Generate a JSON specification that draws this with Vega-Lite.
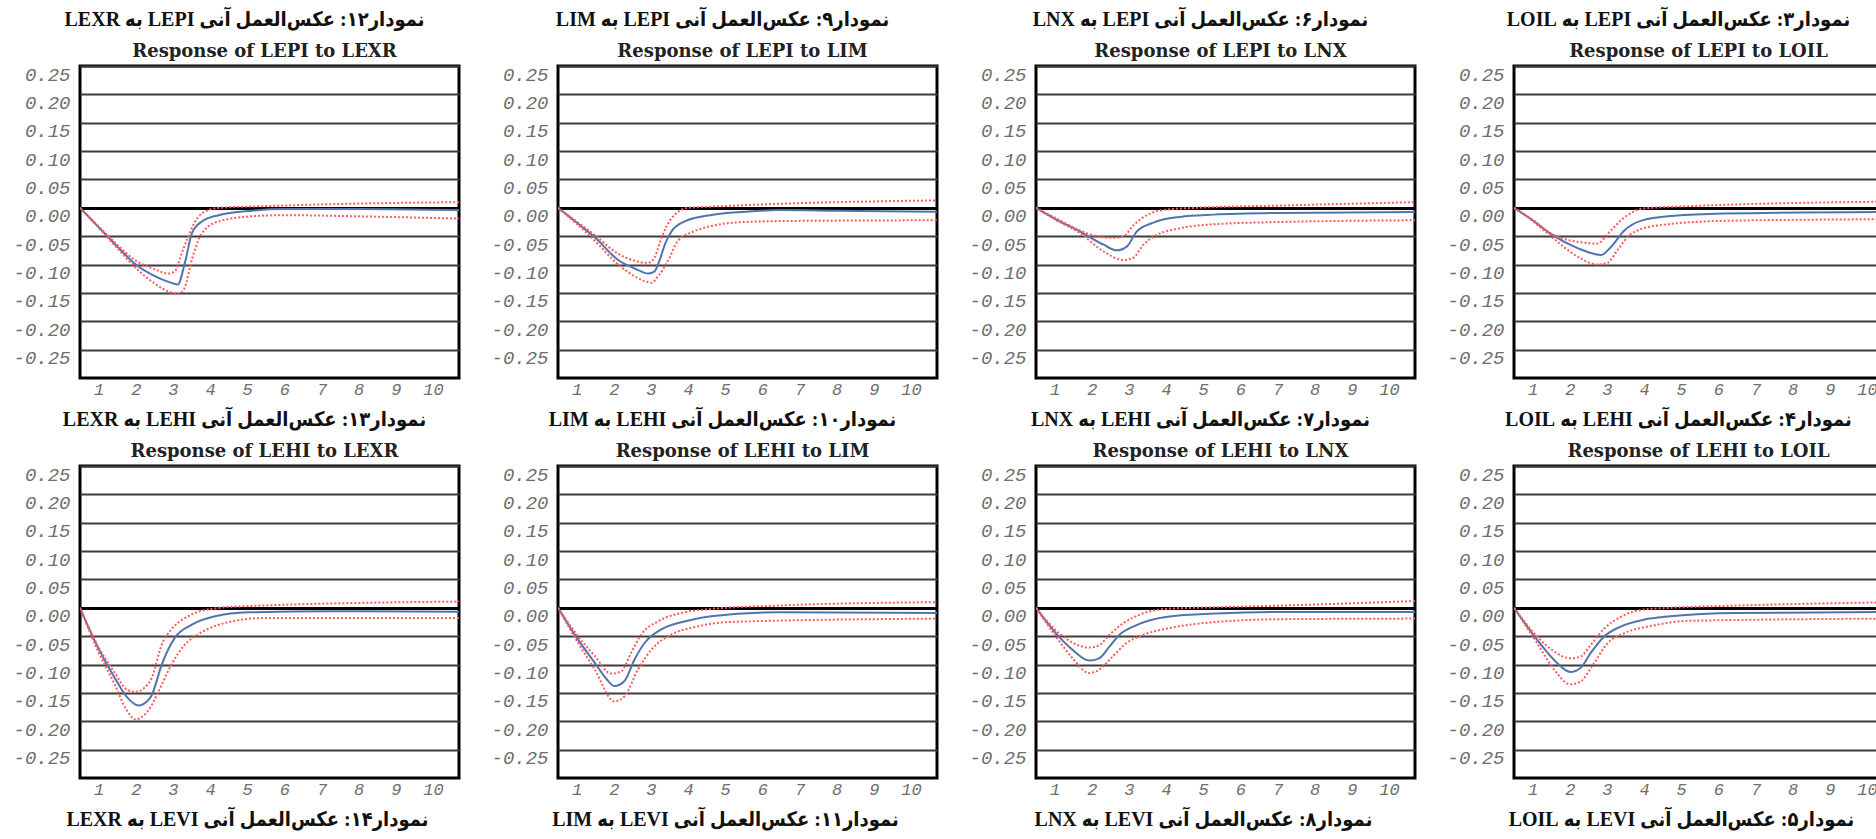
{
  "$schema": "https://vega.github.io/schema/vega-lite/v6.json",
  "background": "white",
  "padding": {"left": 11, "top": 8, "right": 0, "bottom": 0},
  "columns": 4,
  "spacing": {"row": 88, "column": 99},
  "bounds": "flush",
  "datasets": {
    "lepi_lexr": [
      {"t":0.5,"s":"r","v":0},{"t":1,"s":"r","v":-0.034},{"t":1.5,"s":"r","v":-0.068},{"t":2,"s":"r","v":-0.1},{"t":2.5,"s":"r","v":-0.12},{"t":2.9,"s":"r","v":-0.131},{"t":3.13,"s":"r","v":-0.135},{"t":3.33,"s":"r","v":-0.095},{"t":3.51,"s":"r","v":-0.045},{"t":3.78,"s":"r","v":-0.024},{"t":4.23,"s":"r","v":-0.013},{"t":5.12,"s":"r","v":-0.005},{"t":6,"s":"r","v":-0.002},{"t":8,"s":"r","v":-0.002},{"t":10.7,"s":"r","v":-0.004},
      {"t":0.5,"s":"u","v":0},{"t":1,"s":"u","v":-0.033},{"t":1.5,"s":"u","v":-0.065},{"t":2,"s":"u","v":-0.093},{"t":2.5,"s":"u","v":-0.108},{"t":2.88,"s":"u","v":-0.116},{"t":3.05,"s":"u","v":-0.112},{"t":3.24,"s":"u","v":-0.08},{"t":3.38,"s":"u","v":-0.056},{"t":3.55,"s":"u","v":-0.03},{"t":3.78,"s":"u","v":-0.01},{"t":4.23,"s":"u","v":0},{"t":5.5,"s":"u","v":0.003},{"t":7,"s":"u","v":0.006},{"t":10.7,"s":"u","v":0.01},
      {"t":0.5,"s":"l","v":0},{"t":1,"s":"l","v":-0.035},{"t":1.5,"s":"l","v":-0.071},{"t":2,"s":"l","v":-0.106},{"t":2.5,"s":"l","v":-0.133},{"t":2.9,"s":"l","v":-0.148},{"t":3.12,"s":"l","v":-0.152},{"t":3.29,"s":"l","v":-0.144},{"t":3.56,"s":"l","v":-0.08},{"t":3.78,"s":"l","v":-0.045},{"t":4.23,"s":"l","v":-0.024},{"t":5.1,"s":"l","v":-0.015},{"t":6,"s":"l","v":-0.013},{"t":8,"s":"l","v":-0.015},{"t":10.7,"s":"l","v":-0.019}
    ],
    "lepi_lim": [
      {"t":0.5,"s":"r","v":0},{"t":1,"s":"r","v":-0.026},{"t":1.49,"s":"r","v":-0.052},{"t":2.12,"s":"r","v":-0.092},{"t":2.6,"s":"r","v":-0.108},{"t":2.93,"s":"r","v":-0.116},{"t":3.1,"s":"r","v":-0.112},{"t":3.22,"s":"r","v":-0.095},{"t":3.38,"s":"r","v":-0.064},{"t":3.56,"s":"r","v":-0.041},{"t":3.91,"s":"r","v":-0.024},{"t":4.63,"s":"r","v":-0.0125},{"t":5.53,"s":"r","v":-0.007},{"t":6.42,"s":"r","v":-0.004},{"t":8,"s":"r","v":-0.005},{"t":10.7,"s":"r","v":-0.007},
      {"t":0.5,"s":"u","v":0},{"t":1,"s":"u","v":-0.024},{"t":1.49,"s":"u","v":-0.048},{"t":2.12,"s":"u","v":-0.081},{"t":2.6,"s":"u","v":-0.094},{"t":2.84,"s":"u","v":-0.097},{"t":2.98,"s":"u","v":-0.096},{"t":3.11,"s":"u","v":-0.086},{"t":3.29,"s":"u","v":-0.052},{"t":3.56,"s":"u","v":-0.018},{"t":4,"s":"u","v":0},{"t":4.63,"s":"u","v":0.002},{"t":6.42,"s":"u","v":0.007},{"t":10.7,"s":"u","v":0.013},
      {"t":0.5,"s":"l","v":0},{"t":1,"s":"l","v":-0.028},{"t":1.49,"s":"l","v":-0.058},{"t":2.12,"s":"l","v":-0.1},{"t":2.6,"s":"l","v":-0.122},{"t":3.02,"s":"l","v":-0.132},{"t":3.2,"s":"l","v":-0.12},{"t":3.47,"s":"l","v":-0.092},{"t":3.73,"s":"l","v":-0.058},{"t":4.18,"s":"l","v":-0.041},{"t":4.63,"s":"l","v":-0.032},{"t":5.53,"s":"l","v":-0.025},{"t":7,"s":"l","v":-0.023},{"t":10.7,"s":"l","v":-0.022}
    ],
    "lepi_lnx": [
      {"t":0.5,"s":"r","v":0},{"t":1,"s":"r","v":-0.019},{"t":1.69,"s":"r","v":-0.042},{"t":2.32,"s":"r","v":-0.065},{"t":2.68,"s":"r","v":-0.075},{"t":2.95,"s":"r","v":-0.068},{"t":3.21,"s":"r","v":-0.042},{"t":3.66,"s":"r","v":-0.026},{"t":4.38,"s":"r","v":-0.016},{"t":5.28,"s":"r","v":-0.012},{"t":7.07,"s":"r","v":-0.009},{"t":10.7,"s":"r","v":-0.0075},
      {"t":0.5,"s":"u","v":0},{"t":1,"s":"u","v":-0.017},{"t":1.69,"s":"u","v":-0.04},{"t":2.12,"s":"u","v":-0.05},{"t":2.6,"s":"u","v":-0.053},{"t":2.86,"s":"u","v":-0.05},{"t":3.12,"s":"u","v":-0.031},{"t":3.48,"s":"u","v":-0.013},{"t":4.02,"s":"u","v":-0.003},{"t":4.8,"s":"u","v":0},{"t":7.07,"s":"u","v":0.004},{"t":10.7,"s":"u","v":0.01},
      {"t":0.5,"s":"l","v":0},{"t":1,"s":"l","v":-0.02},{"t":1.69,"s":"l","v":-0.045},{"t":2.32,"s":"l","v":-0.077},{"t":2.86,"s":"l","v":-0.092},{"t":3.12,"s":"l","v":-0.088},{"t":3.39,"s":"l","v":-0.065},{"t":3.66,"s":"l","v":-0.051},{"t":4.38,"s":"l","v":-0.036},{"t":5.28,"s":"l","v":-0.029},{"t":7.07,"s":"l","v":-0.025},{"t":10.7,"s":"l","v":-0.022}
    ],
    "lepi_loil": [
      {"t":0.5,"s":"r","v":0},{"t":1,"s":"r","v":-0.022},{"t":1.49,"s":"r","v":-0.046},{"t":2.21,"s":"r","v":-0.071},{"t":2.84,"s":"r","v":-0.083},{"t":3.11,"s":"r","v":-0.069},{"t":3.47,"s":"r","v":-0.04},{"t":3.91,"s":"r","v":-0.023},{"t":4.81,"s":"r","v":-0.014},{"t":6.15,"s":"r","v":-0.01},{"t":10.7,"s":"r","v":-0.007},
      {"t":0.5,"s":"u","v":0},{"t":1,"s":"u","v":-0.021},{"t":1.49,"s":"u","v":-0.045},{"t":2.21,"s":"u","v":-0.06},{"t":2.75,"s":"u","v":-0.063},{"t":3.02,"s":"u","v":-0.046},{"t":3.47,"s":"u","v":-0.017},{"t":4,"s":"u","v":-0.001},{"t":5.26,"s":"u","v":0.003},{"t":10.7,"s":"u","v":0.011},
      {"t":0.5,"s":"l","v":0},{"t":1,"s":"l","v":-0.023},{"t":1.49,"s":"l","v":-0.05},{"t":2.21,"s":"l","v":-0.086},{"t":2.75,"s":"l","v":-0.1},{"t":3.02,"s":"l","v":-0.097},{"t":3.29,"s":"l","v":-0.074},{"t":3.65,"s":"l","v":-0.046},{"t":4.37,"s":"l","v":-0.031},{"t":6.15,"s":"l","v":-0.023},{"t":10.7,"s":"l","v":-0.02}
    ],
    "lehi_lexr": [
      {"t":0.5,"s":"r","v":0},{"t":0.99,"s":"r","v":-0.071},{"t":1.44,"s":"r","v":-0.124},{"t":1.8,"s":"r","v":-0.16},{"t":2.07,"s":"r","v":-0.172},{"t":2.3,"s":"r","v":-0.165},{"t":2.43,"s":"r","v":-0.154},{"t":2.7,"s":"r","v":-0.1},{"t":3.05,"s":"r","v":-0.053},{"t":3.5,"s":"r","v":-0.03},{"t":4.13,"s":"r","v":-0.015},{"t":5.03,"s":"r","v":-0.008},{"t":7.27,"s":"r","v":-0.006},{"t":10.7,"s":"r","v":-0.007},
      {"t":0.5,"s":"u","v":0},{"t":0.99,"s":"u","v":-0.068},{"t":1.44,"s":"u","v":-0.115},{"t":1.78,"s":"u","v":-0.145},{"t":2,"s":"u","v":-0.148},{"t":2.25,"s":"u","v":-0.14},{"t":2.43,"s":"u","v":-0.124},{"t":2.7,"s":"u","v":-0.065},{"t":2.96,"s":"u","v":-0.038},{"t":3.41,"s":"u","v":-0.015},{"t":4.13,"s":"u","v":-0.001},{"t":5.03,"s":"u","v":0.003},{"t":10.7,"s":"u","v":0.011},
      {"t":0.5,"s":"l","v":0},{"t":0.99,"s":"l","v":-0.077},{"t":1.44,"s":"l","v":-0.136},{"t":1.75,"s":"l","v":-0.18},{"t":2,"s":"l","v":-0.197},{"t":2.15,"s":"l","v":-0.193},{"t":2.34,"s":"l","v":-0.181},{"t":2.61,"s":"l","v":-0.148},{"t":2.96,"s":"l","v":-0.1},{"t":3.32,"s":"l","v":-0.065},{"t":3.68,"s":"l","v":-0.047},{"t":4.58,"s":"l","v":-0.024},{"t":5.47,"s":"l","v":-0.018},{"t":10.7,"s":"l","v":-0.018}
    ],
    "lehi_lim": [
      {"t":0.5,"s":"r","v":0},{"t":1.04,"s":"r","v":-0.056},{"t":1.49,"s":"r","v":-0.097},{"t":1.8,"s":"r","v":-0.125},{"t":2.02,"s":"r","v":-0.138},{"t":2.29,"s":"r","v":-0.129},{"t":2.56,"s":"r","v":-0.091},{"t":2.83,"s":"r","v":-0.062},{"t":3.28,"s":"r","v":-0.038},{"t":3.9,"s":"r","v":-0.024},{"t":4.62,"s":"r","v":-0.015},{"t":6.41,"s":"r","v":-0.008},{"t":10.7,"s":"r","v":-0.009},
      {"t":0.5,"s":"u","v":0},{"t":1.04,"s":"u","v":-0.05},{"t":1.49,"s":"u","v":-0.085},{"t":1.93,"s":"u","v":-0.116},{"t":2.2,"s":"u","v":-0.112},{"t":2.47,"s":"u","v":-0.079},{"t":2.74,"s":"u","v":-0.047},{"t":3.19,"s":"u","v":-0.024},{"t":3.9,"s":"u","v":-0.008},{"t":4.62,"s":"u","v":-0.002},{"t":6.41,"s":"u","v":0.004},{"t":10.7,"s":"u","v":0.01},
      {"t":0.5,"s":"l","v":0},{"t":1.04,"s":"l","v":-0.062},{"t":1.49,"s":"l","v":-0.109},{"t":2.02,"s":"l","v":-0.165},{"t":2.29,"s":"l","v":-0.156},{"t":2.65,"s":"l","v":-0.109},{"t":3.01,"s":"l","v":-0.074},{"t":3.55,"s":"l","v":-0.047},{"t":4.18,"s":"l","v":-0.034},{"t":5.08,"s":"l","v":-0.025},{"t":10.7,"s":"l","v":-0.019}
    ],
    "lehi_lnx": [
      {"t":0.5,"s":"r","v":0},{"t":1.04,"s":"r","v":-0.045},{"t":1.5,"s":"r","v":-0.075},{"t":1.93,"s":"r","v":-0.093},{"t":2.2,"s":"r","v":-0.089},{"t":2.47,"s":"r","v":-0.069},{"t":2.74,"s":"r","v":-0.048},{"t":3.19,"s":"r","v":-0.031},{"t":3.99,"s":"r","v":-0.016},{"t":5.34,"s":"r","v":-0.01},{"t":7.13,"s":"r","v":-0.0075},{"t":10.7,"s":"r","v":-0.0075},
      {"t":0.5,"s":"u","v":0},{"t":1.04,"s":"u","v":-0.04},{"t":1.5,"s":"u","v":-0.062},{"t":1.93,"s":"u","v":-0.07},{"t":2.2,"s":"u","v":-0.066},{"t":2.47,"s":"u","v":-0.048},{"t":2.83,"s":"u","v":-0.028},{"t":3.37,"s":"u","v":-0.01},{"t":3.99,"s":"u","v":-0.002},{"t":5.34,"s":"u","v":0.001},{"t":7.13,"s":"u","v":0.004},{"t":10.7,"s":"u","v":0.012},
      {"t":0.5,"s":"l","v":0},{"t":1.04,"s":"l","v":-0.051},{"t":1.5,"s":"l","v":-0.09},{"t":1.93,"s":"l","v":-0.115},{"t":2.2,"s":"l","v":-0.109},{"t":2.56,"s":"l","v":-0.086},{"t":2.92,"s":"l","v":-0.063},{"t":3.37,"s":"l","v":-0.048},{"t":3.99,"s":"l","v":-0.037},{"t":5.34,"s":"l","v":-0.025},{"t":7.13,"s":"l","v":-0.02},{"t":10.7,"s":"l","v":-0.019}
    ],
    "lehi_loil": [
      {"t":0.5,"s":"r","v":0},{"t":1.13,"s":"r","v":-0.057},{"t":1.58,"s":"r","v":-0.092},{"t":2.02,"s":"r","v":-0.113},{"t":2.29,"s":"r","v":-0.106},{"t":2.56,"s":"r","v":-0.08},{"t":2.92,"s":"r","v":-0.051},{"t":3.37,"s":"r","v":-0.033},{"t":3.99,"s":"r","v":-0.021},{"t":4.71,"s":"r","v":-0.015},{"t":6.5,"s":"r","v":-0.009},{"t":10.7,"s":"r","v":-0.0075},
      {"t":0.5,"s":"u","v":0},{"t":1.13,"s":"u","v":-0.051},{"t":1.58,"s":"u","v":-0.077},{"t":2.02,"s":"u","v":-0.089},{"t":2.29,"s":"u","v":-0.086},{"t":2.56,"s":"u","v":-0.066},{"t":2.92,"s":"u","v":-0.037},{"t":3.37,"s":"u","v":-0.016},{"t":3.99,"s":"u","v":-0.003},{"t":4.71,"s":"u","v":0},{"t":6.5,"s":"u","v":0.004},{"t":10.7,"s":"u","v":0.01},
      {"t":0.5,"s":"l","v":0},{"t":1.13,"s":"l","v":-0.063},{"t":1.58,"s":"l","v":-0.109},{"t":2.02,"s":"l","v":-0.135},{"t":2.29,"s":"l","v":-0.13},{"t":2.65,"s":"l","v":-0.098},{"t":3.01,"s":"l","v":-0.063},{"t":3.46,"s":"l","v":-0.045},{"t":4.27,"s":"l","v":-0.031},{"t":5.17,"s":"l","v":-0.023},{"t":10.7,"s":"l","v":-0.019}
    ]
  },
  "concat": [
    {
      "title": {"text": "\u202bنمودار۱۲: عکس‌العمل آنی LEPI به LEXR\u202c"},
      "data": {"name": "lepi_lexr"},
      "resolve": {"scale": {"x": "independent"}},
      "encoding": {
        "x": {"field": "t", "type": "quantitative", "scale": {"domain": [0.5, 10.7], "nice": false, "zero": false}, "axis": {"values": [1,2,3,4,5,6,7,8,9,10], "title": null}},
        "y": {"field": "v", "type": "quantitative", "scale": {"domain": [-0.3, 0.25], "nice": false, "zero": false}, "axis": {"values": [-0.25,-0.2,-0.15,-0.1,-0.05,0,0.05,0.1,0.15,0.2,0.25], "format": ".2f", "labelExpr": "replace(datum.label, '\u2212', '-')", "title": null, "gridColor": {"condition": {"test": "datum.value === 0", "value": "#000"}, "value": "#3c3c3c"}, "gridWidth": {"condition": {"test": "datum.value === 0", "value": 3}, "value": 2}}}
      },
      "layer": [
        {"transform": [{"filter": "datum.s == 'r'"}], "mark": {"type": "line", "color": "#5473ab", "strokeWidth": 2, "interpolate": "monotone", "clip": true}},
        {"transform": [{"filter": "datum.s != 'r'"}], "mark": {"type": "line", "color": "#ff5a5a", "strokeWidth": 2, "strokeDash": [2, 2], "interpolate": "monotone", "clip": true},
         "encoding": {"detail": {"field": "s"}, "x": {"field": "t", "type": "quantitative", "scale": {"domain": [0.5, 10.7], "nice": false, "zero": false}, "axis": {"orient": "top", "title": "Response of LEPI to LEXR"}}}}
      ]
    },
    {
      "title": {"text": "\u202bنمودار۹: عکس‌العمل آنی LEPI به LIM\u202c"},
      "data": {"name": "lepi_lim"},
      "resolve": {"scale": {"x": "independent"}},
      "encoding": {
        "x": {"field": "t", "type": "quantitative", "scale": {"domain": [0.5, 10.7], "nice": false, "zero": false}, "axis": {"values": [1,2,3,4,5,6,7,8,9,10], "title": null}},
        "y": {"field": "v", "type": "quantitative", "scale": {"domain": [-0.3, 0.25], "nice": false, "zero": false}, "axis": {"values": [-0.25,-0.2,-0.15,-0.1,-0.05,0,0.05,0.1,0.15,0.2,0.25], "format": ".2f", "labelExpr": "replace(datum.label, '\u2212', '-')", "title": null, "gridColor": {"condition": {"test": "datum.value === 0", "value": "#000"}, "value": "#3c3c3c"}, "gridWidth": {"condition": {"test": "datum.value === 0", "value": 3}, "value": 2}}}
      },
      "layer": [
        {"transform": [{"filter": "datum.s == 'r'"}], "mark": {"type": "line", "color": "#5473ab", "strokeWidth": 2, "interpolate": "monotone", "clip": true}},
        {"transform": [{"filter": "datum.s != 'r'"}], "mark": {"type": "line", "color": "#ff5a5a", "strokeWidth": 2, "strokeDash": [2, 2], "interpolate": "monotone", "clip": true},
         "encoding": {"detail": {"field": "s"}, "x": {"field": "t", "type": "quantitative", "scale": {"domain": [0.5, 10.7], "nice": false, "zero": false}, "axis": {"orient": "top", "title": "Response of LEPI to LIM"}}}}
      ]
    },
    {
      "title": {"text": "\u202bنمودار۶: عکس‌العمل آنی LEPI به LNX\u202c"},
      "data": {"name": "lepi_lnx"},
      "resolve": {"scale": {"x": "independent"}},
      "encoding": {
        "x": {"field": "t", "type": "quantitative", "scale": {"domain": [0.5, 10.7], "nice": false, "zero": false}, "axis": {"values": [1,2,3,4,5,6,7,8,9,10], "title": null}},
        "y": {"field": "v", "type": "quantitative", "scale": {"domain": [-0.3, 0.25], "nice": false, "zero": false}, "axis": {"values": [-0.25,-0.2,-0.15,-0.1,-0.05,0,0.05,0.1,0.15,0.2,0.25], "format": ".2f", "labelExpr": "replace(datum.label, '\u2212', '-')", "title": null, "gridColor": {"condition": {"test": "datum.value === 0", "value": "#000"}, "value": "#3c3c3c"}, "gridWidth": {"condition": {"test": "datum.value === 0", "value": 3}, "value": 2}}}
      },
      "layer": [
        {"transform": [{"filter": "datum.s == 'r'"}], "mark": {"type": "line", "color": "#5473ab", "strokeWidth": 2, "interpolate": "monotone", "clip": true}},
        {"transform": [{"filter": "datum.s != 'r'"}], "mark": {"type": "line", "color": "#ff5a5a", "strokeWidth": 2, "strokeDash": [2, 2], "interpolate": "monotone", "clip": true},
         "encoding": {"detail": {"field": "s"}, "x": {"field": "t", "type": "quantitative", "scale": {"domain": [0.5, 10.7], "nice": false, "zero": false}, "axis": {"orient": "top", "title": "Response of LEPI to LNX"}}}}
      ]
    },
    {
      "title": {"text": "\u202bنمودار۳: عکس‌العمل آنی LEPI به LOIL\u202c"},
      "data": {"name": "lepi_loil"},
      "resolve": {"scale": {"x": "independent"}},
      "encoding": {
        "x": {"field": "t", "type": "quantitative", "scale": {"domain": [0.5, 10.7], "nice": false, "zero": false}, "axis": {"values": [1,2,3,4,5,6,7,8,9,10], "title": null}},
        "y": {"field": "v", "type": "quantitative", "scale": {"domain": [-0.3, 0.25], "nice": false, "zero": false}, "axis": {"values": [-0.25,-0.2,-0.15,-0.1,-0.05,0,0.05,0.1,0.15,0.2,0.25], "format": ".2f", "labelExpr": "replace(datum.label, '\u2212', '-')", "title": null, "gridColor": {"condition": {"test": "datum.value === 0", "value": "#000"}, "value": "#3c3c3c"}, "gridWidth": {"condition": {"test": "datum.value === 0", "value": 3}, "value": 2}}}
      },
      "layer": [
        {"transform": [{"filter": "datum.s == 'r'"}], "mark": {"type": "line", "color": "#5473ab", "strokeWidth": 2, "interpolate": "monotone", "clip": true}},
        {"transform": [{"filter": "datum.s != 'r'"}], "mark": {"type": "line", "color": "#ff5a5a", "strokeWidth": 2, "strokeDash": [2, 2], "interpolate": "monotone", "clip": true},
         "encoding": {"detail": {"field": "s"}, "x": {"field": "t", "type": "quantitative", "scale": {"domain": [0.5, 10.7], "nice": false, "zero": false}, "axis": {"orient": "top", "title": "Response of LEPI to LOIL"}}}}
      ]
    },
    {
      "title": {"text": "\u202bنمودار۱۳: عکس‌العمل آنی LEHI به LEXR\u202c"},
      "data": {"name": "lehi_lexr"},
      "resolve": {"scale": {"x": "independent"}},
      "encoding": {
        "x": {"field": "t", "type": "quantitative", "scale": {"domain": [0.5, 10.7], "nice": false, "zero": false}, "axis": {"values": [1,2,3,4,5,6,7,8,9,10], "title": "\u202bنمودار۱۴: عکس‌العمل آنی LEVI به LEXR\u202c"}},
        "y": {"field": "v", "type": "quantitative", "scale": {"domain": [-0.3, 0.25], "nice": false, "zero": false}, "axis": {"values": [-0.25,-0.2,-0.15,-0.1,-0.05,0,0.05,0.1,0.15,0.2,0.25], "format": ".2f", "labelExpr": "replace(datum.label, '\u2212', '-')", "title": null, "gridColor": {"condition": {"test": "datum.value === 0", "value": "#000"}, "value": "#3c3c3c"}, "gridWidth": {"condition": {"test": "datum.value === 0", "value": 3}, "value": 2}}}
      },
      "layer": [
        {"transform": [{"filter": "datum.s == 'r'"}], "mark": {"type": "line", "color": "#5473ab", "strokeWidth": 2, "interpolate": "monotone", "clip": true}},
        {"transform": [{"filter": "datum.s != 'r'"}], "mark": {"type": "line", "color": "#ff5a5a", "strokeWidth": 2, "strokeDash": [2, 2], "interpolate": "monotone", "clip": true},
         "encoding": {"detail": {"field": "s"}, "x": {"field": "t", "type": "quantitative", "scale": {"domain": [0.5, 10.7], "nice": false, "zero": false}, "axis": {"orient": "top", "title": "Response of LEHI to LEXR"}}}}
      ]
    },
    {
      "title": {"text": "\u202bنمودار۱۰: عکس‌العمل آنی LEHI به LIM\u202c"},
      "data": {"name": "lehi_lim"},
      "resolve": {"scale": {"x": "independent"}},
      "encoding": {
        "x": {"field": "t", "type": "quantitative", "scale": {"domain": [0.5, 10.7], "nice": false, "zero": false}, "axis": {"values": [1,2,3,4,5,6,7,8,9,10], "title": "\u202bنمودار۱۱: عکس‌العمل آنی LEVI به LIM\u202c"}},
        "y": {"field": "v", "type": "quantitative", "scale": {"domain": [-0.3, 0.25], "nice": false, "zero": false}, "axis": {"values": [-0.25,-0.2,-0.15,-0.1,-0.05,0,0.05,0.1,0.15,0.2,0.25], "format": ".2f", "labelExpr": "replace(datum.label, '\u2212', '-')", "title": null, "gridColor": {"condition": {"test": "datum.value === 0", "value": "#000"}, "value": "#3c3c3c"}, "gridWidth": {"condition": {"test": "datum.value === 0", "value": 3}, "value": 2}}}
      },
      "layer": [
        {"transform": [{"filter": "datum.s == 'r'"}], "mark": {"type": "line", "color": "#5473ab", "strokeWidth": 2, "interpolate": "monotone", "clip": true}},
        {"transform": [{"filter": "datum.s != 'r'"}], "mark": {"type": "line", "color": "#ff5a5a", "strokeWidth": 2, "strokeDash": [2, 2], "interpolate": "monotone", "clip": true},
         "encoding": {"detail": {"field": "s"}, "x": {"field": "t", "type": "quantitative", "scale": {"domain": [0.5, 10.7], "nice": false, "zero": false}, "axis": {"orient": "top", "title": "Response of LEHI to LIM"}}}}
      ]
    },
    {
      "title": {"text": "\u202bنمودار۷: عکس‌العمل آنی LEHI به LNX\u202c"},
      "data": {"name": "lehi_lnx"},
      "resolve": {"scale": {"x": "independent"}},
      "encoding": {
        "x": {"field": "t", "type": "quantitative", "scale": {"domain": [0.5, 10.7], "nice": false, "zero": false}, "axis": {"values": [1,2,3,4,5,6,7,8,9,10], "title": "\u202bنمودار۸: عکس‌العمل آنی LEVI به LNX\u202c"}},
        "y": {"field": "v", "type": "quantitative", "scale": {"domain": [-0.3, 0.25], "nice": false, "zero": false}, "axis": {"values": [-0.25,-0.2,-0.15,-0.1,-0.05,0,0.05,0.1,0.15,0.2,0.25], "format": ".2f", "labelExpr": "replace(datum.label, '\u2212', '-')", "title": null, "gridColor": {"condition": {"test": "datum.value === 0", "value": "#000"}, "value": "#3c3c3c"}, "gridWidth": {"condition": {"test": "datum.value === 0", "value": 3}, "value": 2}}}
      },
      "layer": [
        {"transform": [{"filter": "datum.s == 'r'"}], "mark": {"type": "line", "color": "#5473ab", "strokeWidth": 2, "interpolate": "monotone", "clip": true}},
        {"transform": [{"filter": "datum.s != 'r'"}], "mark": {"type": "line", "color": "#ff5a5a", "strokeWidth": 2, "strokeDash": [2, 2], "interpolate": "monotone", "clip": true},
         "encoding": {"detail": {"field": "s"}, "x": {"field": "t", "type": "quantitative", "scale": {"domain": [0.5, 10.7], "nice": false, "zero": false}, "axis": {"orient": "top", "title": "Response of LEHI to LNX"}}}}
      ]
    },
    {
      "title": {"text": "\u202bنمودار۴: عکس‌العمل آنی LEHI به LOIL\u202c"},
      "data": {"name": "lehi_loil"},
      "resolve": {"scale": {"x": "independent"}},
      "encoding": {
        "x": {"field": "t", "type": "quantitative", "scale": {"domain": [0.5, 10.7], "nice": false, "zero": false}, "axis": {"values": [1,2,3,4,5,6,7,8,9,10], "title": "\u202bنمودار۵: عکس‌العمل آنی LEVI به LOIL\u202c"}},
        "y": {"field": "v", "type": "quantitative", "scale": {"domain": [-0.3, 0.25], "nice": false, "zero": false}, "axis": {"values": [-0.25,-0.2,-0.15,-0.1,-0.05,0,0.05,0.1,0.15,0.2,0.25], "format": ".2f", "labelExpr": "replace(datum.label, '\u2212', '-')", "title": null, "gridColor": {"condition": {"test": "datum.value === 0", "value": "#000"}, "value": "#3c3c3c"}, "gridWidth": {"condition": {"test": "datum.value === 0", "value": 3}, "value": 2}}}
      },
      "layer": [
        {"transform": [{"filter": "datum.s == 'r'"}], "mark": {"type": "line", "color": "#5473ab", "strokeWidth": 2, "interpolate": "monotone", "clip": true}},
        {"transform": [{"filter": "datum.s != 'r'"}], "mark": {"type": "line", "color": "#ff5a5a", "strokeWidth": 2, "strokeDash": [2, 2], "interpolate": "monotone", "clip": true},
         "encoding": {"detail": {"field": "s"}, "x": {"field": "t", "type": "quantitative", "scale": {"domain": [0.5, 10.7], "nice": false, "zero": false}, "axis": {"orient": "top", "title": "Response of LEHI to LOIL"}}}}
      ]
    }
  ],
  "config": {
    "view": {"continuousWidth": 379, "continuousHeight": 312, "stroke": "#000", "strokeWidth": 3},
    "axis": {"domain": false, "ticks": false, "labelColor": "#6e6e6e", "labelFont": "Liberation Mono", "labelFontStyle": "italic"},
    "axisY": {"grid": true, "labelFontSize": 19, "labelPadding": 10, "labelOffset": 8},
    "axisBottom": {"grid": false, "labelFontSize": 17, "labelPadding": 3, "labelAngle": 0, "titleFont": "Liberation Serif, DejaVu Sans Condensed, DejaVu Sans", "titleFontSize": 20, "titleFontWeight": "bold", "titleColor": "#111", "titlePadding": 12, "titleX": 167},
    "axisTop": {"grid": false, "labels": false, "titleFont": "DejaVu Serif", "titleFontSize": 18, "titleFontWeight": "bold", "titleColor": "#222", "titlePadding": 6, "titleX": 184},
    "title": {"font": "Liberation Serif, DejaVu Sans Condensed, DejaVu Sans", "fontSize": 20, "fontWeight": "bold", "color": "#111", "offset": 12, "anchor": "middle", "frame": "group", "dx": -25}
  }
}
